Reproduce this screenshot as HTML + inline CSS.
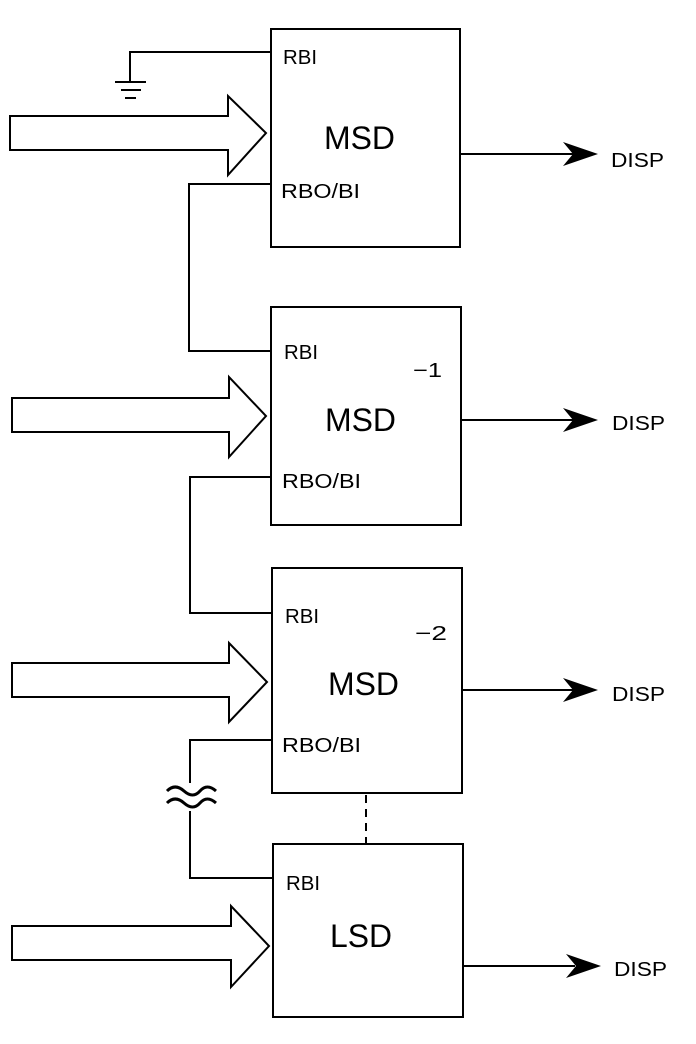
<!DOCTYPE html>
<html><head><meta charset="utf-8"><style>
html,body{margin:0;padding:0;background:#fff;}
svg{display:block;}
text{font-family:"Liberation Sans",sans-serif;fill:#000;}
</style></head><body>
<svg width="696" height="1044" viewBox="0 0 696 1044" xmlns="http://www.w3.org/2000/svg">
<g fill="none" stroke="#000" stroke-width="2">
<rect x="271" y="29" width="189" height="218"/>
<rect x="271" y="307" width="190" height="218"/>
<rect x="272" y="568" width="190" height="225"/>
<rect x="273" y="844" width="190" height="173"/>
<polygon points="10,116 228,116 228,96 266,133 228,175 228,150 10,150"/>
<polygon points="12,398 229,398 229,377 266,416 229,457 229,432 12,432"/>
<polygon points="12,663 229,663 229,643 267,682 229,722 229,697 12,697"/>
<polygon points="12,926 231,926 231,906 269,946 231,987 231,960 12,960"/>
<polyline points="271,52 130,52 130,82"/>
<line x1="115" y1="82" x2="146" y2="82"/>
<line x1="121" y1="90" x2="141" y2="90"/>
<line x1="125" y1="98" x2="136" y2="98"/>
<polyline points="271,184 189,184 189,351 271,351"/>
<polyline points="271,477 190,477 190,613 272,613"/>
<polyline points="272,740 190,740 190,783"/>
<polyline points="190,811 190,878 273,878"/>
<g stroke-width="3">
<path d="M167,791 q8,-8 17,0 t16,0 t16,0"/>
<path d="M167,803 q8,-8 17,0 t16,0 t16,0"/>
</g>
<line x1="366" y1="795" x2="366" y2="845" stroke-dasharray="8,6"/>
<line x1="460" y1="154" x2="575" y2="154"/>
<line x1="461" y1="420" x2="575" y2="420"/>
<line x1="462" y1="690" x2="575" y2="690"/>
<line x1="463" y1="966" x2="575" y2="966"/>
</g>
<g fill="#000">
<polygon points="563,142 598,154 563,166 573,154"/>
<polygon points="563,408 598,420 563,432 573,420"/>
<polygon points="563,678 598,690 563,702 573,690"/>
<polygon points="566,954 601,966 566,978 576,966"/>
</g>
<g font-size="20">
<text x="283" y="64" textLength="34" lengthAdjust="spacingAndGlyphs">RBI</text>
<text x="281" y="198" textLength="79" lengthAdjust="spacingAndGlyphs">RBO/BI</text>
<text x="284" y="359" textLength="34" lengthAdjust="spacingAndGlyphs">RBI</text>
<text x="282" y="488" textLength="79" lengthAdjust="spacingAndGlyphs">RBO/BI</text>
<text x="285" y="623" textLength="34" lengthAdjust="spacingAndGlyphs">RBI</text>
<text x="282" y="752" textLength="79" lengthAdjust="spacingAndGlyphs">RBO/BI</text>
<text x="286" y="890" textLength="34" lengthAdjust="spacingAndGlyphs">RBI</text>
<text x="611" y="167" textLength="53" lengthAdjust="spacingAndGlyphs">DISP</text>
<text x="612" y="430" textLength="53" lengthAdjust="spacingAndGlyphs">DISP</text>
<text x="612" y="701" textLength="53" lengthAdjust="spacingAndGlyphs">DISP</text>
<text x="614" y="976" textLength="53" lengthAdjust="spacingAndGlyphs">DISP</text>
<text x="413" y="377" textLength="29" lengthAdjust="spacingAndGlyphs">−1</text>
<text x="415" y="640" textLength="32" lengthAdjust="spacingAndGlyphs">−2</text>
</g>
<g font-size="32">
<text x="324" y="149" textLength="71" lengthAdjust="spacingAndGlyphs">MSD</text>
<text x="325" y="431" textLength="71" lengthAdjust="spacingAndGlyphs">MSD</text>
<text x="328" y="695" textLength="71" lengthAdjust="spacingAndGlyphs">MSD</text>
<text x="330" y="947" textLength="62" lengthAdjust="spacingAndGlyphs">LSD</text>
</g>
</svg>
</body></html>
